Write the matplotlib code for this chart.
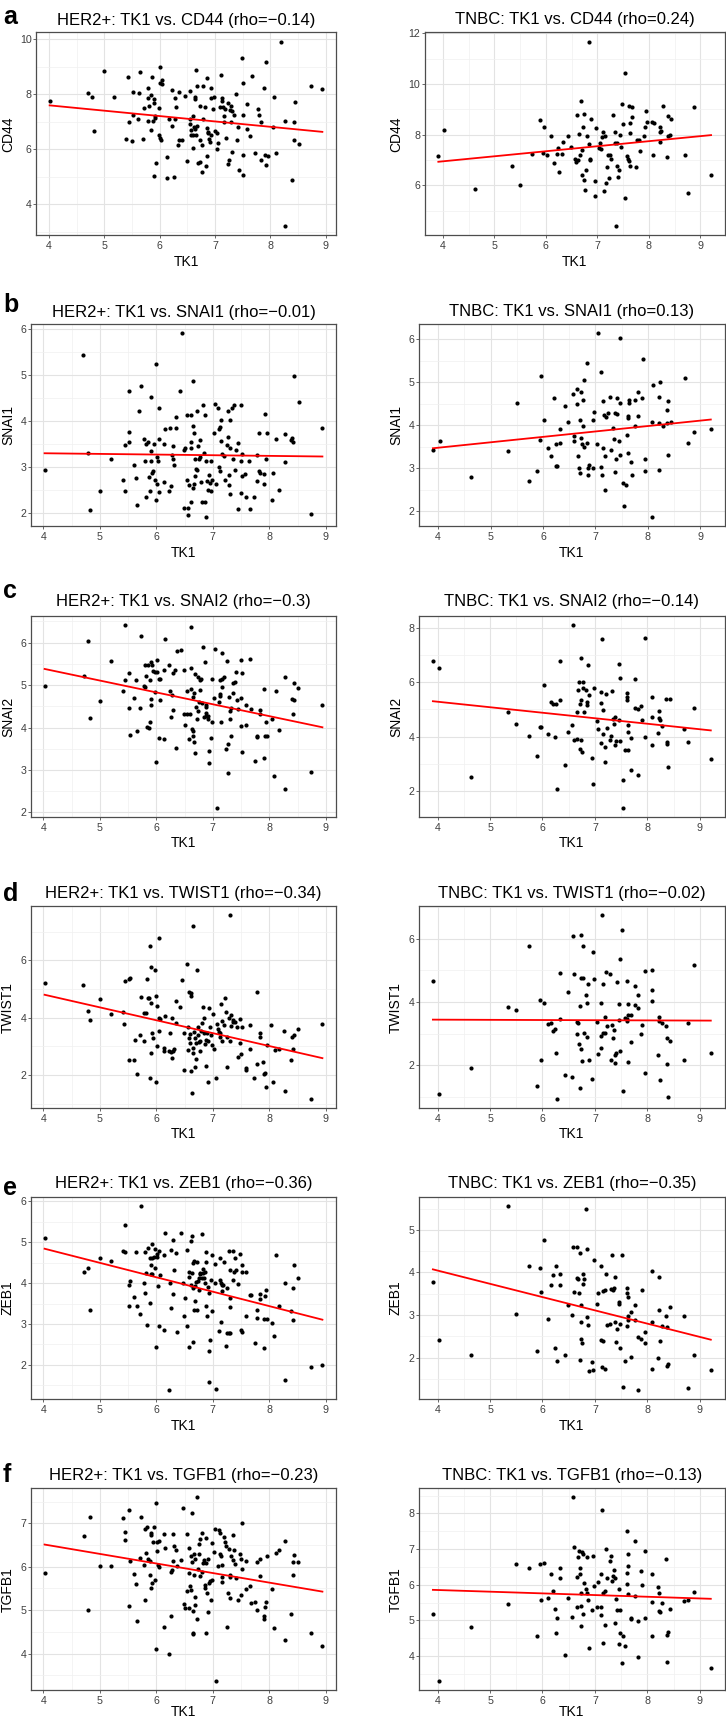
import numpy as np
import matplotlib
matplotlib.use("Agg")
import matplotlib.pyplot as plt
from matplotlib.ticker import MultipleLocator

plt.rcParams['font.family'] = ['Liberation Sans', 'DejaVu Sans']

# ---------------- data: (TK1, gene) pairs ----------------
her2_cd44 = [(4.01,7.76),(4.70,8.04),(4.78,7.90),(4.82,6.67),(5.00,8.83),(5.18,7.90),(5.39,6.36),(5.42,8.63),(5.44,6.98),(5.50,6.30),(5.51,8.09),(5.51,7.25),(5.60,7.08),(5.62,8.03),(5.65,8.81),(5.69,6.36),(5.72,7.51),(5.78,8.22),(5.78,7.87),(5.78,7.02),(5.81,7.57),(5.84,6.70),(5.84,7.96),(5.86,8.64),(5.88,7.03),(5.89,5.01),(5.90,7.81),(5.89,7.68),(5.91,7.20),(5.92,7.14),(5.94,5.51),(5.98,7.48),(6.00,8.98),(5.98,6.52),(6.00,6.41),(6.01,8.39),(6.04,8.52),(6.05,8.38),(6.03,6.35),(6.13,5.73),(6.13,4.94),(6.16,7.10),(6.22,8.15),(6.23,6.85),(6.25,4.99),(6.27,7.09),(6.28,7.86),(6.29,7.53),(6.33,6.16),(6.35,8.09),(6.35,6.33),(6.41,6.33),(6.46,7.92),(6.49,5.56),(6.54,7.10),(6.55,8.11),(6.55,6.92),(6.56,6.68),(6.56,6.50),(6.60,7.19),(6.60,6.52),(6.61,6.03),(6.62,6.80),(6.63,7.81),(6.64,7.91),(6.64,6.72),(6.65,6.51),(6.66,8.86),(6.67,6.86),(6.67,8.30),(6.69,5.49),(6.72,6.33),(6.73,7.57),(6.73,5.54),(6.76,5.16),(6.77,6.16),(6.79,8.30),(6.78,7.10),(6.82,7.53),(6.83,5.40),(6.85,5.74),(6.86,8.60),(6.86,6.76),(6.87,6.64),(6.87,6.58),(6.89,6.37),(6.91,6.25),(6.92,8.22),(6.93,7.86),(6.93,6.50),(6.97,7.45),(6.99,7.88),(7.00,6.65),(7.03,6.01),(7.03,6.59),(7.06,6.23),(7.09,7.54),(7.11,8.69),(7.13,7.86),(7.13,7.76),(7.15,7.53),(7.16,7.19),(7.16,6.98),(7.18,7.47),(7.19,6.40),(7.23,5.47),(7.24,7.68),(7.25,5.60),(7.27,7.41),(7.29,7.57),(7.29,6.98),(7.31,5.91),(7.31,7.40),(7.35,7.23),(7.38,7.99),(7.40,6.35),(7.42,6.80),(7.44,5.26),(7.49,9.33),(7.50,8.42),(7.50,7.23),(7.50,5.80),(7.51,5.06),(7.57,6.74),(7.58,7.64),(7.64,6.47),(7.66,8.66),(7.72,5.86),(7.78,7.46),(7.79,7.26),(7.83,7.00),(7.83,5.62),(7.89,8.21),(7.90,5.80),(7.93,9.16),(7.92,5.44),(7.96,5.74),(8.04,6.82),(8.06,7.88),(8.10,5.86),(8.19,9.91),(8.27,7.02),(8.27,3.21),(8.39,4.89),(8.42,7.00),(8.43,6.35),(8.44,7.70),(8.51,6.19),(8.73,8.28),(8.94,8.19)]

her2_snai1 = [(4.02,2.93),(4.70,5.45),(4.78,3.30),(4.82,2.06),(5.01,2.47),(5.19,3.18),(5.40,2.72),(5.44,3.47),(5.44,2.47),(5.51,3.76),(5.52,3.55),(5.52,4.65),(5.61,3.04),(5.63,2.75),(5.65,2.16),(5.70,4.22),(5.72,4.77),(5.78,3.61),(5.79,3.12),(5.81,2.35),(5.82,3.49),(5.85,3.53),(5.87,2.77),(5.88,2.46),(5.90,4.52),(5.91,3.34),(5.91,3.12),(5.92,2.86),(5.94,2.90),(5.95,3.49),(5.97,2.70),(5.99,5.24),(6.00,2.28),(6.01,3.21),(6.01,2.63),(6.02,3.12),(6.04,2.44),(6.05,3.61),(6.05,4.28),(6.13,3.50),(6.13,2.66),(6.15,3.82),(6.22,2.46),(6.24,3.85),(6.25,2.59),(6.27,3.26),(6.29,3.17),(6.30,3.45),(6.32,3.03),(6.35,3.85),(6.35,4.09),(6.42,4.66),(6.46,5.91),(6.48,3.36),(6.49,2.11),(6.51,3.42),(6.55,4.12),(6.55,2.72),(6.56,2.11),(6.56,1.94),(6.58,2.61),(6.61,3.55),(6.61,4.13),(6.62,2.22),(6.62,3.42),(6.64,4.88),(6.64,2.53),(6.65,3.90),(6.66,3.74),(6.67,2.63),(6.68,2.80),(6.69,3.18),(6.71,2.95),(6.72,2.93),(6.72,4.22),(6.74,3.45),(6.75,3.18),(6.77,3.58),(6.78,3.21),(6.79,2.67),(6.81,2.23),(6.83,4.34),(6.85,3.29),(6.86,2.23),(6.86,4.14),(6.87,3.12),(6.88,1.90),(6.90,2.69),(6.92,2.49),(6.94,2.83),(6.95,2.64),(6.96,3.12),(6.97,2.48),(6.99,2.72),(7.02,3.74),(7.04,4.36),(7.06,2.63),(7.09,4.28),(7.11,3.00),(7.11,3.83),(7.12,2.91),(7.13,3.87),(7.15,3.56),(7.15,4.03),(7.16,3.28),(7.19,3.23),(7.22,2.72),(7.25,3.48),(7.26,4.21),(7.27,3.64),(7.28,2.60),(7.29,2.83),(7.30,3.40),(7.31,4.01),(7.31,2.41),(7.34,4.28),(7.35,3.18),(7.37,4.34),(7.39,2.92),(7.41,3.37),(7.44,2.08),(7.45,3.51),(7.49,2.42),(7.49,3.12),(7.50,4.34),(7.51,3.28),(7.52,2.80),(7.57,2.85),(7.58,2.33),(7.64,3.12),(7.66,2.07),(7.73,2.33),(7.78,3.25),(7.79,2.69),(7.81,3.74),(7.82,2.91),(7.83,2.86),(7.90,2.84),(7.90,2.62),(7.92,4.16),(7.94,3.18),(7.96,3.74),(8.04,2.28),(8.07,2.87),(8.11,3.61),(8.18,2.50),(8.27,3.72),(8.27,3.10),(8.39,3.59),(8.41,3.63),(8.42,3.53),(8.44,4.99),(8.52,4.42),(8.73,1.97),(8.94,3.85)]

her2_snai2 = [(4.02,4.97),(4.71,5.22),(4.79,6.05),(4.82,4.22),(5.01,4.62),(5.19,5.56),(5.41,4.85),(5.44,5.11),(5.44,6.42),(5.51,5.28),(5.52,4.45),(5.53,3.82),(5.61,4.69),(5.63,5.11),(5.66,3.91),(5.71,4.47),(5.72,6.15),(5.78,4.98),(5.79,4.95),(5.79,5.48),(5.82,5.22),(5.84,4.01),(5.86,5.48),(5.87,3.98),(5.88,4.12),(5.89,5.12),(5.91,5.55),(5.91,4.67),(5.91,4.54),(5.93,5.48),(5.94,5.33),(5.98,5.32),(5.98,4.83),(6.00,3.18),(6.01,5.59),(6.01,5.31),(6.04,3.76),(6.04,5.15),(6.06,4.66),(6.06,5.14),(6.14,5.35),(6.14,3.73),(6.15,6.08),(6.23,5.48),(6.24,4.87),(6.25,4.24),(6.28,4.76),(6.29,5.28),(6.29,4.42),(6.33,5.36),(6.35,3.51),(6.36,5.81),(6.43,5.83),(6.48,5.35),(6.49,4.32),(6.50,4.05),(6.54,4.85),(6.55,4.32),(6.57,3.72),(6.59,4.33),(6.61,5.41),(6.62,6.37),(6.62,4.90),(6.63,3.96),(6.64,3.91),(6.64,3.79),(6.65,4.73),(6.66,4.81),(6.66,3.65),(6.68,5.26),(6.69,3.40),(6.71,4.49),(6.72,4.21),(6.73,4.40),(6.74,5.18),(6.75,4.61),(6.78,5.12),(6.78,4.89),(6.79,5.14),(6.80,4.59),(6.82,5.91),(6.84,4.24),(6.86,5.55),(6.87,4.27),(6.88,4.53),(6.88,4.48),(6.88,4.35),(6.92,4.27),(6.92,4.21),(6.93,3.16),(6.94,3.44),(6.96,3.76),(6.98,4.13),(6.99,5.14),(7.02,4.70),(7.04,5.84),(7.07,2.10),(7.10,4.60),(7.12,4.79),(7.12,4.75),(7.13,5.11),(7.15,4.13),(7.16,5.75),(7.17,5.15),(7.17,4.95),(7.19,5.18),(7.24,3.50),(7.25,5.56),(7.26,3.62),(7.26,2.93),(7.29,4.71),(7.31,4.40),(7.31,4.20),(7.32,3.79),(7.33,4.45),(7.35,4.82),(7.36,5.04),(7.39,5.07),(7.41,5.32),(7.43,4.66),(7.45,4.43),(7.49,4.69),(7.50,5.59),(7.50,4.04),(7.52,5.29),(7.52,3.42),(7.59,4.07),(7.59,4.53),(7.65,5.62),(7.67,4.43),(7.74,3.22),(7.78,3.80),(7.79,3.77),(7.83,4.42),(7.84,4.31),(7.90,4.90),(7.90,3.28),(7.93,3.79),(7.94,4.13),(7.96,3.79),(8.04,4.20),(8.08,2.85),(8.11,4.87),(8.18,3.94),(8.27,5.18),(8.28,2.55),(8.40,4.67),(8.42,4.32),(8.43,5.05),(8.44,4.64),(8.51,4.94),(8.74,2.95),(8.94,4.54)]

her2_twist1 = [(4.02,5.21),(4.70,5.13),(4.78,4.24),(4.82,3.90),(5.01,4.64),(5.19,4.11),(5.40,4.18),(5.43,3.78),(5.44,5.28),(5.51,2.52),(5.52,5.35),(5.53,5.37),(5.61,2.52),(5.62,3.22),(5.65,2.03),(5.71,3.41),(5.72,4.71),(5.78,4.15),(5.78,3.17),(5.81,4.15),(5.83,5.35),(5.85,4.69),(5.87,4.67),(5.88,1.90),(5.89,6.49),(5.90,4.51),(5.91,5.76),(5.91,2.78),(5.92,3.48),(5.94,3.28),(5.98,5.66),(5.99,4.75),(6.00,1.76),(6.01,4.39),(6.01,3.00),(6.04,3.55),(6.04,3.98),(6.05,6.79),(6.06,3.94),(6.13,2.95),(6.14,2.84),(6.15,4.06),(6.23,2.83),(6.24,3.45),(6.25,2.80),(6.27,2.58),(6.28,4.00),(6.30,2.85),(6.32,2.92),(6.35,4.59),(6.35,3.81),(6.42,4.36),(6.46,5.32),(6.48,3.45),(6.49,2.19),(6.54,5.88),(6.56,3.66),(6.56,2.87),(6.57,4.88),(6.58,3.29),(6.59,3.42),(6.60,3.13),(6.61,4.76),(6.61,2.14),(6.62,4.85),(6.63,1.38),(6.64,2.75),(6.64,7.18),(6.65,2.93),(6.66,3.49),(6.68,3.29),(6.69,2.29),(6.70,2.55),(6.71,3.13),(6.72,5.67),(6.73,3.69),(6.74,3.39),(6.75,3.14),(6.78,2.83),(6.78,3.19),(6.79,3.54),(6.81,3.80),(6.82,4.38),(6.84,3.47),(6.85,3.99),(6.86,3.08),(6.88,2.33),(6.88,3.22),(6.89,3.48),(6.92,3.20),(6.92,1.77),(6.94,4.32),(6.95,3.68),(6.96,3.39),(6.98,3.06),(7.00,4.12),(7.02,2.89),(7.05,1.91),(7.07,3.78),(7.09,3.62),(7.11,3.50),(7.12,3.31),(7.13,3.47),(7.14,4.47),(7.16,3.89),(7.16,3.20),(7.19,3.73),(7.22,4.67),(7.24,4.18),(7.25,2.29),(7.25,3.31),(7.28,3.98),(7.30,3.19),(7.31,7.57),(7.32,3.71),(7.33,4.10),(7.35,3.92),(7.36,3.83),(7.39,3.85),(7.42,3.68),(7.44,2.62),(7.48,3.95),(7.48,3.11),(7.50,2.72),(7.51,3.67),(7.58,2.26),(7.58,2.17),(7.65,3.74),(7.66,2.90),(7.73,1.88),(7.78,2.40),(7.79,4.89),(7.83,3.47),(7.83,3.32),(7.89,2.47),(7.90,2.05),(7.92,2.06),(7.94,1.58),(7.95,3.04),(8.03,3.74),(8.07,1.77),(8.10,2.86),(8.17,2.92),(8.26,3.53),(8.28,1.45),(8.38,2.52),(8.41,3.34),(8.42,2.92),(8.44,3.41),(8.50,3.62),(8.73,1.16),(8.94,3.77)]

her2_zeb1 = [(4.02,5.11),(4.71,4.28),(4.79,4.36),(4.82,3.34),(5.01,4.62),(5.19,4.54),(5.41,4.78),(5.44,5.42),(5.44,4.75),(5.51,3.45),(5.52,3.95),(5.53,4.05),(5.61,3.65),(5.63,4.76),(5.66,3.45),(5.71,3.25),(5.72,5.87),(5.78,3.99),(5.79,3.76),(5.79,4.77),(5.82,4.24),(5.84,2.98),(5.86,4.86),(5.88,4.62),(5.89,3.52),(5.90,4.22),(5.91,4.43),(5.92,4.62),(5.93,4.96),(5.93,4.21),(5.95,4.64),(5.97,4.37),(5.98,4.83),(5.99,2.44),(6.01,4.64),(6.01,4.70),(6.03,3.93),(6.04,2.96),(6.05,4.79),(6.06,4.19),(6.14,4.69),(6.14,2.86),(6.16,5.22),(6.22,1.40),(6.24,4.00),(6.25,3.38),(6.26,4.81),(6.29,5.04),(6.29,3.74),(6.32,4.32),(6.35,4.73),(6.36,2.80),(6.43,5.22),(6.47,3.99),(6.49,3.19),(6.50,3.63),(6.54,4.80),(6.55,2.95),(6.57,4.28),(6.57,2.44),(6.58,4.15),(6.61,5.03),(6.62,3.95),(6.63,5.14),(6.63,4.25),(6.64,2.55),(6.64,3.88),(6.65,4.50),(6.66,3.35),(6.67,4.55),(6.68,3.93),(6.68,3.56),(6.70,4.03),(6.72,3.34),(6.72,4.52),(6.74,4.06),(6.75,4.13),(6.76,3.82),(6.77,4.24),(6.78,4.22),(6.80,5.20),(6.81,4.12),(6.82,4.34),(6.83,4.24),(6.84,4.13),(6.86,4.28),(6.86,3.99),(6.87,4.75),(6.88,4.51),(6.88,3.44),(6.90,3.19),(6.92,3.91),(6.93,3.75),(6.93,2.35),(6.94,1.58),(6.95,2.60),(6.97,4.08),(6.98,3.31),(6.99,4.68),(7.04,4.00),(7.04,4.46),(7.06,1.42),(7.10,2.83),(7.12,4.60),(7.12,4.08),(7.15,4.01),(7.15,3.05),(7.16,3.95),(7.17,3.81),(7.18,3.95),(7.19,4.51),(7.24,2.47),(7.25,3.87),(7.25,2.79),(7.28,4.78),(7.29,2.77),(7.30,3.42),(7.31,3.63),(7.31,2.77),(7.31,4.31),(7.35,4.78),(7.35,4.07),(7.38,4.26),(7.40,4.62),(7.41,4.31),(7.45,3.97),(7.48,4.72),(7.49,2.85),(7.51,2.81),(7.51,4.44),(7.52,4.28),(7.59,3.19),(7.58,4.28),(7.65,3.71),(7.67,3.70),(7.74,2.53),(7.78,3.14),(7.79,3.34),(7.83,3.74),(7.84,3.62),(7.90,3.13),(7.90,2.42),(7.93,3.68),(7.94,3.82),(7.96,3.12),(8.04,3.02),(8.08,2.70),(8.11,4.69),(8.18,3.44),(8.27,3.99),(8.28,1.64),(8.39,3.32),(8.42,3.89),(8.42,3.11),(8.44,4.43),(8.51,4.13),(8.74,1.96),(8.94,2.01)]

her2_tgfb1 = [(4.02,5.86),(4.71,6.72),(4.79,5.00),(4.82,7.16),(5.01,6.03),(5.19,6.03),(5.41,7.13),(5.44,6.81),(5.44,6.62),(5.51,7.30),(5.52,5.09),(5.53,6.13),(5.61,5.84),(5.63,5.60),(5.66,4.74),(5.71,6.21),(5.72,7.14),(5.79,5.23),(5.78,6.04),(5.79,6.87),(5.82,6.33),(5.84,6.92),(5.86,6.18),(5.88,5.80),(5.88,6.13),(5.90,6.79),(5.91,6.73),(5.91,5.50),(5.92,5.63),(5.94,6.58),(5.95,6.92),(5.98,5.70),(5.99,7.47),(6.00,4.10),(6.01,6.37),(6.01,6.58),(6.03,6.04),(6.04,6.59),(6.05,6.00),(6.14,6.75),(6.14,4.62),(6.15,6.43),(6.23,3.98),(6.25,5.88),(6.26,4.86),(6.28,5.92),(6.29,6.14),(6.30,6.75),(6.32,6.49),(6.35,6.39),(6.36,6.03),(6.43,6.15),(6.47,7.35),(6.49,5.14),(6.50,5.04),(6.54,6.76),(6.55,5.44),(6.57,6.44),(6.57,5.86),(6.58,5.04),(6.59,5.56),(6.61,6.26),(6.62,5.46),(6.63,7.25),(6.63,6.12),(6.64,4.99),(6.64,4.45),(6.65,4.48),(6.66,5.81),(6.66,6.30),(6.69,5.30),(6.69,5.12),(6.69,6.19),(6.72,7.60),(6.72,4.79),(6.74,5.95),(6.75,6.29),(6.76,6.53),(6.77,5.78),(6.78,6.64),(6.80,6.79),(6.81,5.89),(6.82,6.09),(6.84,6.16),(6.86,5.57),(6.86,5.50),(6.87,4.48),(6.87,6.09),(6.88,6.67),(6.89,5.40),(6.91,6.18),(6.92,4.95),(6.93,5.63),(6.95,5.67),(6.97,5.24),(6.98,6.56),(6.99,5.69),(7.02,6.34),(7.04,6.87),(7.06,3.37),(7.09,6.01),(7.11,6.85),(7.12,6.77),(7.13,6.29),(7.15,6.26),(7.16,5.66),(7.17,5.76),(7.17,6.04),(7.20,6.69),(7.22,6.58),(7.24,6.47),(7.25,4.61),(7.26,5.40),(7.28,6.41),(7.30,5.81),(7.30,5.27),(7.31,5.76),(7.32,6.24),(7.35,6.73),(7.35,6.16),(7.38,6.39),(7.40,6.06),(7.41,5.75),(7.45,5.23),(7.48,6.30),(7.49,6.19),(7.49,5.35),(7.51,7.01),(7.51,5.95),(7.58,6.13),(7.59,5.49),(7.65,5.56),(7.67,5.16),(7.74,5.18),(7.78,5.00),(7.79,6.12),(7.83,6.18),(7.84,5.78),(7.90,4.87),(7.90,4.79),(7.93,5.07),(7.94,5.20),(7.96,6.26),(8.04,5.48),(8.08,4.60),(8.11,6.31),(8.18,6.38),(8.27,6.59),(8.28,4.31),(8.38,4.92),(8.42,6.10),(8.42,5.81),(8.44,6.27),(8.51,6.10),(8.74,4.48),(8.94,4.17)]

tnbc_cd44 = [(3.91,7.17),(4.02,8.18),(4.63,5.84),(5.34,6.78),(5.49,6.03),(5.73,7.23),(5.89,8.58),(5.94,7.27),(5.97,8.29),(6.02,7.18),(6.10,7.94),(6.16,6.90),(6.21,7.24),(6.24,7.46),(6.26,6.54),(6.32,7.24),(6.33,7.71),(6.43,7.93),(6.48,7.52),(6.56,7.02),(6.58,6.94),(6.60,8.79),(6.63,7.01),(6.64,8.04),(6.67,7.19),(6.69,9.33),(6.71,7.38),(6.71,6.41),(6.72,8.30),(6.74,8.80),(6.75,6.21),(6.76,5.82),(6.78,6.61),(6.79,7.94),(6.83,11.68),(6.84,7.63),(6.85,7.05),(6.86,7.00),(6.88,8.62),(6.96,6.17),(6.96,5.57),(6.98,8.25),(7.04,7.46),(7.05,7.68),(7.07,7.44),(7.10,7.89),(7.11,8.12),(7.13,5.78),(7.14,7.93),(7.16,6.10),(7.19,6.72),(7.20,7.19),(7.23,6.29),(7.24,7.19),(7.26,7.05),(7.31,8.78),(7.34,8.10),(7.35,7.68),(7.37,4.39),(7.38,7.68),(7.39,6.78),(7.40,6.33),(7.42,6.61),(7.45,8.00),(7.46,7.50),(7.48,9.20),(7.49,8.41),(7.53,5.51),(7.53,10.43),(7.58,7.15),(7.60,7.05),(7.62,9.15),(7.62,6.97),(7.64,8.47),(7.64,8.06),(7.64,6.78),(7.67,8.68),(7.68,9.09),(7.76,6.73),(7.77,7.79),(7.81,7.80),(7.82,7.35),(7.90,7.94),(7.92,8.29),(7.95,8.94),(7.97,8.51),(8.07,8.50),(8.08,7.19),(8.10,8.45),(8.21,8.29),(8.21,8.10),(8.22,7.72),(8.24,8.14),(8.28,9.15),(8.36,7.13),(8.37,7.94),(8.38,8.74),(8.41,7.97),(8.44,8.61),(8.70,7.18),(8.77,5.70),(8.88,9.09),(9.21,6.41)]

tnbc_snai1 = [(3.90,3.41),(4.03,3.63),(4.62,2.79),(5.34,3.40),(5.50,4.52),(5.73,2.70),(5.89,2.93),(5.95,3.65),(5.96,5.15),(6.02,4.11),(6.10,3.47),(6.15,3.28),(6.21,4.62),(6.24,3.05),(6.27,3.05),(6.24,3.55),(6.32,3.91),(6.33,3.59),(6.42,4.45),(6.48,4.07),(6.57,4.73),(6.59,3.75),(6.60,3.62),(6.65,4.84),(6.65,4.49),(6.67,3.28),(6.69,3.00),(6.71,4.11),(6.71,2.88),(6.72,4.78),(6.73,3.69),(6.74,3.55),(6.76,4.58),(6.76,3.98),(6.78,5.04),(6.79,3.48),(6.83,5.44),(6.84,3.59),(6.85,3.00),(6.86,2.83),(6.88,3.08),(6.95,3.00),(6.95,4.11),(6.98,4.31),(7.03,3.56),(7.05,6.13),(7.10,5.23),(7.11,3.02),(7.12,2.85),(7.14,3.47),(7.15,4.55),(7.16,4.23),(7.19,3.27),(7.19,2.48),(7.21,4.19),(7.23,4.29),(7.27,4.66),(7.30,3.41),(7.34,3.93),(7.35,3.68),(7.37,2.91),(7.38,4.29),(7.39,3.22),(7.41,4.63),(7.42,4.25),(7.45,3.62),(7.47,4.51),(7.47,6.02),(7.47,3.30),(7.52,2.65),(7.54,2.12),(7.58,2.61),(7.61,3.76),(7.62,4.22),(7.62,4.17),(7.63,3.35),(7.64,4.59),(7.64,4.51),(7.67,3.15),(7.69,2.83),(7.76,3.99),(7.76,4.58),(7.81,4.76),(7.82,4.20),(7.88,4.64),(7.90,5.53),(7.95,3.20),(7.95,2.93),(8.07,4.07),(8.09,4.94),(8.07,1.86),(8.21,2.95),(8.22,4.66),(8.21,4.05),(8.24,5.01),(8.28,3.99),(8.36,4.34),(8.37,4.05),(8.39,4.55),(8.38,3.30),(8.44,4.07),(8.70,5.10),(8.77,3.58),(8.88,3.83),(9.20,3.90)]

tnbc_snai2 = [(3.91,6.78),(4.03,6.52),(4.63,2.54),(5.35,4.89),(5.50,4.45),(5.74,4.02),(5.89,3.29),(5.95,4.37),(5.98,4.34),(6.03,5.89),(6.10,4.11),(6.16,5.29),(6.21,5.20),(6.23,3.98),(6.25,5.20),(6.27,2.07),(6.33,6.78),(6.33,5.35),(6.43,2.95),(6.49,4.16),(6.57,4.43),(6.59,8.10),(6.60,3.89),(6.65,4.90),(6.66,3.91),(6.68,5.71),(6.69,5.99),(6.71,5.20),(6.72,3.55),(6.73,6.90),(6.73,3.89),(6.74,5.34),(6.76,3.44),(6.77,5.80),(6.78,6.01),(6.79,4.90),(6.83,5.71),(6.85,5.29),(6.85,5.15),(6.86,6.62),(6.88,5.54),(6.95,3.21),(6.96,2.27),(6.98,5.79),(7.04,4.59),(7.05,4.28),(7.11,5.65),(7.11,5.22),(7.11,3.76),(7.14,7.57),(7.15,4.98),(7.16,4.11),(7.19,3.09),(7.20,3.63),(7.22,5.55),(7.23,4.32),(7.28,3.89),(7.31,4.01),(7.33,5.68),(7.34,4.65),(7.37,4.46),(7.38,3.70),(7.39,4.71),(7.41,3.85),(7.45,6.66),(7.45,4.61),(7.47,6.15),(7.47,3.85),(7.53,2.43),(7.53,1.38),(7.58,3.50),(7.61,5.60),(7.61,5.44),(7.62,5.34),(7.64,3.51),(7.64,4.44),(7.64,4.16),(7.68,2.77),(7.69,3.95),(7.76,6.10),(7.76,5.05),(7.82,2.59),(7.82,5.00),(7.88,5.11),(7.90,4.62),(7.95,3.99),(7.96,7.61),(8.08,3.70),(8.08,5.44),(8.09,4.71),(8.21,4.15),(8.22,4.96),(8.22,4.68),(8.24,4.63),(8.28,4.40),(8.36,5.40),(8.37,3.74),(8.38,3.82),(8.39,2.88),(8.44,5.39),(8.70,4.28),(8.77,3.80),(8.89,5.05),(9.21,3.18)]

tnbc_twist1 = [(3.91,4.68),(4.03,1.10),(4.63,1.92),(5.35,3.85),(5.50,3.76),(5.74,5.77),(5.89,1.33),(5.95,4.06),(5.97,2.16),(6.03,3.96),(6.10,3.32),(6.16,3.34),(6.21,3.08),(6.23,3.14),(6.25,2.38),(6.27,0.93),(6.33,4.92),(6.33,3.46),(6.43,1.70),(6.49,4.33),(6.57,1.64),(6.59,6.08),(6.60,4.89),(6.65,2.99),(6.66,3.36),(6.68,3.35),(6.69,2.68),(6.71,1.28),(6.72,3.87),(6.73,6.11),(6.73,2.51),(6.74,4.75),(6.76,2.13),(6.77,4.76),(6.78,5.76),(6.79,3.01),(6.83,4.22),(6.85,2.91),(6.85,3.97),(6.86,4.57),(6.88,2.17),(6.95,1.58),(6.96,5.60),(6.98,4.72),(7.04,3.36),(7.05,2.35),(7.11,3.97),(7.11,2.93),(7.11,2.54),(7.14,6.75),(7.15,4.57),(7.16,3.03),(7.19,3.01),(7.20,3.54),(7.22,4.94),(7.23,3.23),(7.28,4.90),(7.31,2.18),(7.33,3.29),(7.34,2.85),(7.37,3.11),(7.38,2.08),(7.39,2.32),(7.41,2.38),(7.42,4.63),(7.45,3.94),(7.46,3.44),(7.47,2.46),(7.48,5.37),(7.52,6.28),(7.53,1.20),(7.58,3.50),(7.61,4.67),(7.61,3.48),(7.62,3.41),(7.64,2.10),(7.64,3.94),(7.64,3.60),(7.68,2.73),(7.69,3.58),(7.76,4.50),(7.76,3.90),(7.82,4.23),(7.82,3.82),(7.88,2.99),(7.90,3.27),(7.95,1.77),(7.96,4.97),(8.08,5.03),(8.08,4.37),(8.09,4.04),(8.21,2.34),(8.22,3.54),(8.22,3.40),(8.24,1.53),(8.28,3.34),(8.36,3.23),(8.37,2.85),(8.38,2.05),(8.39,0.99),(8.44,2.77),(8.70,2.16),(8.77,3.35),(8.89,5.16),(9.21,2.38)]

tnbc_zeb1 = [(3.91,3.78),(4.03,2.41),(4.63,2.05),(5.35,5.55),(5.50,3.02),(5.74,4.15),(5.89,2.15),(5.95,4.11),(5.97,3.53),(6.03,4.77),(6.10,2.91),(6.16,3.71),(6.21,3.93),(6.24,2.23),(6.25,4.16),(6.27,1.91),(6.33,3.96),(6.33,3.70),(6.43,2.07),(6.49,3.23),(6.57,3.01),(6.59,4.60),(6.60,3.55),(6.65,4.59),(6.65,3.88),(6.68,3.84),(6.69,3.52),(6.71,1.95),(6.72,4.46),(6.73,2.84),(6.73,2.43),(6.74,3.23),(6.76,2.35),(6.77,3.72),(6.78,3.96),(6.79,3.85),(6.83,5.48),(6.85,4.55),(6.85,2.95),(6.86,2.76),(6.88,1.68),(6.95,1.89),(6.96,1.71),(6.98,4.30),(7.04,3.27),(7.05,3.51),(7.11,4.15),(7.11,2.41),(7.14,1.77),(7.15,3.56),(7.16,2.39),(7.19,3.59),(7.20,1.73),(7.22,3.96),(7.23,2.77),(7.28,2.80),(7.31,3.60),(7.33,4.41),(7.34,3.59),(7.37,3.63),(7.38,2.84),(7.39,3.89),(7.41,2.37),(7.42,2.67),(7.45,3.25),(7.46,3.30),(7.47,2.23),(7.48,2.78),(7.52,4.41),(7.53,1.30),(7.58,1.91),(7.61,2.74),(7.61,3.64),(7.62,3.51),(7.63,3.43),(7.64,2.98),(7.64,2.88),(7.68,2.02),(7.69,3.07),(7.76,3.23),(7.76,2.88),(7.82,1.25),(7.82,2.49),(7.88,2.43),(7.90,3.58),(7.95,2.59),(7.96,2.34),(8.08,4.04),(8.08,1.74),(8.09,2.84),(8.21,2.00),(8.22,3.90),(8.22,3.11),(8.24,2.40),(8.28,2.74),(8.36,2.98),(8.37,2.73),(8.38,1.80),(8.39,1.84),(8.44,3.20),(8.70,2.98),(8.77,1.29),(8.89,2.05),(9.21,1.71)]

tnbc_tgfb1 = [(3.91,5.17),(4.03,3.30),(4.63,4.81),(5.35,5.46),(5.50,6.58),(5.74,6.48),(5.89,4.55),(5.95,6.58),(5.97,5.58),(6.03,6.62),(6.10,5.62),(6.16,6.31),(6.21,5.83),(6.24,5.32),(6.25,4.64),(6.27,5.07),(6.33,6.48),(6.33,6.20),(6.43,4.02),(6.49,5.63),(6.57,5.10),(6.59,8.45),(6.60,7.05),(6.65,6.21),(6.66,5.36),(6.68,6.77),(6.69,6.94),(6.71,6.29),(6.72,6.48),(6.73,4.85),(6.73,5.40),(6.74,5.77),(6.76,6.91),(6.77,5.19),(6.78,6.86),(6.79,6.04),(6.83,5.88),(6.85,6.78),(6.85,5.77),(6.86,5.58),(6.88,4.21),(6.95,5.30),(6.96,6.80),(6.98,5.95),(7.04,5.36),(7.05,6.08),(7.11,6.31),(7.11,5.38),(7.11,5.14),(7.14,8.09),(7.15,4.35),(7.16,5.77),(7.19,5.83),(7.20,4.87),(7.22,6.99),(7.23,6.20),(7.28,6.66),(7.31,6.80),(7.33,6.11),(7.34,6.25),(7.37,6.40),(7.38,4.93),(7.39,6.18),(7.41,5.59),(7.42,5.30),(7.45,5.89),(7.46,4.33),(7.47,5.30),(7.48,4.65),(7.52,3.81),(7.53,4.55),(7.58,4.28),(7.61,7.52),(7.61,6.34),(7.62,6.01),(7.64,6.86),(7.64,6.53),(7.64,5.75),(7.68,5.04),(7.69,5.07),(7.76,7.22),(7.76,5.68),(7.82,3.96),(7.82,4.98),(7.88,6.38),(7.90,6.00),(7.95,5.07),(7.96,6.94),(8.08,4.57),(8.08,6.31),(8.09,5.51),(8.21,5.93),(8.22,5.27),(8.22,5.78),(8.24,5.23),(8.28,5.50),(8.36,6.72),(8.37,4.60),(8.38,3.82),(8.39,4.68),(8.44,5.31),(8.70,5.53),(8.77,5.58),(8.89,5.79),(9.21,3.67)]

genes = ["CD44", "SNAI1", "SNAI2", "TWIST1", "ZEB1", "TGFB1"]
her2_rho = ["\u22120.14", "\u22120.01", "\u22120.3", "\u22120.34", "\u22120.36", "\u22120.23"]
tnbc_rho = ["0.24", "0.13", "\u22120.14", "\u22120.02", "\u22120.35", "\u22120.13"]
panel_letters = ["a", "b", "c", "d", "e", "f"]
her2_data = [her2_cd44, her2_snai1, her2_snai2, her2_twist1, her2_zeb1, her2_tgfb1]
tnbc_data = [tnbc_cd44, tnbc_snai1, tnbc_snai2, tnbc_twist1, tnbc_zeb1, tnbc_tgfb1]
her2_ystep = [2, 1, 1, 2, 1, 1]
tnbc_ystep = [2, 1, 2, 2, 1, 1]

# ---------------- layout (pixels) ----------------
W, H = 726, 1723
fig = plt.figure(figsize=(W / 100, H / 100), dpi=100)
fig.patch.set_facecolor("white")

row_tb = [(32.3, 235.3), (324.3, 526.3), (615.7, 817.3), (906.0, 1108.3),
          (1197.3, 1398.7), (1488.3, 1690.0)]
left_lr = [(36.0, 336.0)] + [(30.7, 336.3)] * 5
right_lr = [(424.7, 724.7)] + [(419.0, 724.7)] * 5
title_base = [[25, 24], [316.5, 316], [606, 606], [898, 897.7], [1188.3, 1188], [1479.7, 1480]]
xlab_base = [266.5, 557, 847, 1138.5, 1429.5, 1716]
letter_base = [24, 312, 598, 901, 1194.7, 1481.7]

def fx(px):
    return px / W

def fy(py):
    return 1 - py / H

def draw_panel(lr, tb, pts, title, gene, ystep, tbase, xbase, ylab_x):
    l, r = lr
    t, b = tb
    ax = fig.add_axes([fx(l), fy(b), (r - l) / W, (b - t) / H])
    x = np.array([p[0] for p in pts])
    y = np.array([p[1] for p in pts])
    ax.set_axisbelow(True)
    ax.scatter(x, y, s=9, c="black", linewidths=0, zorder=3)
    k, c0 = np.polyfit(x, y, 1)
    xs = np.array([x.min(), x.max()])
    ax.plot(xs, k * xs + c0, color="#FF0000", lw=1.3, zorder=4)
    ax.margins(0.05)
    ax.xaxis.set_major_locator(MultipleLocator(1))
    ax.xaxis.set_minor_locator(MultipleLocator(0.5))
    ax.yaxis.set_major_locator(MultipleLocator(ystep))
    ax.yaxis.set_minor_locator(MultipleLocator(ystep / 2))
    ax.grid(which="major", color="#E3E3E3", lw=0.8)
    ax.grid(which="minor", color="#F0F0F0", lw=0.5)
    for s in ax.spines.values():
        s.set_color("#4D4D4D")
        s.set_linewidth(0.9)
    ax.tick_params(which="major", length=2, width=0.6, color="#4D4D4D",
                   labelsize=7.7, labelcolor="#3F3F3F")
    ax.tick_params(axis="x", pad=2.4)
    ax.tick_params(axis="y", pad=1.2)
    ax.tick_params(which="minor", length=0)
    fig.text(fx((l + r) / 2), fy(tbase), title, ha="center", va="baseline",
             fontsize=12, color="black")
    fig.text(fx((l + r) / 2), fy(xbase), "TK1", ha="center", va="baseline",
             fontsize=10, color="black")
    fig.text(fx(ylab_x), fy((t + b) / 2), gene, ha="center", va="center",
             rotation=90, fontsize=10, color="black")
    return ax

for i in range(6):
    g = genes[i]
    draw_panel(left_lr[i], row_tb[i], her2_data[i],
               f"HER2+: TK1 vs. {g} (rho={her2_rho[i]})", g, her2_ystep[i],
               title_base[i][0], xlab_base[i], 8)
    draw_panel(right_lr[i], row_tb[i], tnbc_data[i],
               f"TNBC: TK1 vs. {g} (rho={tnbc_rho[i]})", g, tnbc_ystep[i],
               title_base[i][1], xlab_base[i], 396)
    fig.text(fx(3), fy(letter_base[i]), panel_letters[i], ha="left", va="baseline",
             fontsize=18, fontweight="bold", color="black")

fig.savefig("out.png", dpi=100, facecolor="white")
